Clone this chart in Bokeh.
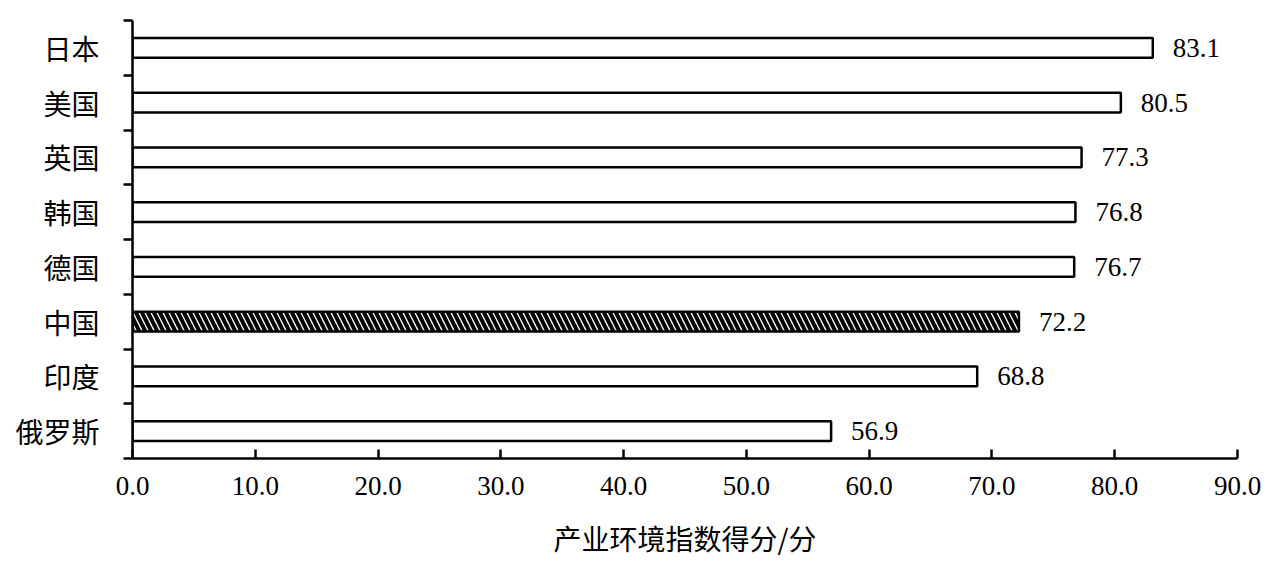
from bokeh.plotting import figure
from bokeh.models import ColumnDataSource, FixedTicker, Range1d
from bokeh.core.properties import value
from bokeh.embed import file_html
from bokeh.resources import INLINE

countries = ["俄罗斯", "印度", "中国", "德国", "韩国", "英国", "美国", "日本"]
scores = [56.9, 68.8, 72.2, 76.7, 76.8, 77.3, 80.5, 83.1]
x_ticks = [0, 10, 20, 30, 40, 50, 60, 70, 80, 90]
x_title = "产业环境指数得分/分"
highlight = "中国"

pos = [i + 0.5 for i in range(len(countries))]
labels = [f"{v:.1f}" for v in scores]

plain_src = ColumnDataSource(dict(
    y=[p for p, c in zip(pos, countries) if c != highlight],
    x=[v for v, c in zip(scores, countries) if c != highlight]))
hi_src = ColumnDataSource(dict(
    y=[p for p, c in zip(pos, countries) if c == highlight],
    x=[v for v, c in zip(scores, countries) if c == highlight]))
lab_src = ColumnDataSource(dict(y=pos, x=scores, t=labels))

p = figure(width=1272, height=560, output_backend="svg", toolbar_location=None,
           x_range=Range1d(0, 90), y_range=Range1d(0, len(countries)),
           min_border_left=132, min_border_right=35, min_border_top=20, min_border_bottom=100)
p.outline_line_color = None
p.grid.visible = False
p.background_fill_color = "white"

bh = 0.36
p.hbar(y="y", right="x", left=0, height=bh, source=plain_src,
       fill_color="white", line_color="black", line_width=2.5)
p.hbar(y="y", right="x", left=0, height=bh, source=hi_src,
       fill_color="white", line_color="black", line_width=2.5,
       hatch_pattern="\\", hatch_color="black", hatch_scale=12, hatch_weight=4)

p.text(x="x", y="y", text="t", source=lab_src, x_offset=20,
       text_baseline="middle", text_align="left",
       text_font=value("Liberation Serif"), text_font_size="27px", text_color="black")

# x axis
xa = p.xaxis[0]
xa.ticker = FixedTicker(ticks=x_ticks)
xa.major_label_overrides = {t: f"{t:.1f}" for t in x_ticks}
xa.major_tick_in = 9
xa.major_tick_out = 0
xa.minor_tick_line_color = None
xa.axis_line_width = 2.5
xa.major_tick_line_width = 2.5
xa.axis_line_color = "black"
xa.major_tick_line_color = "black"
xa.major_label_text_font = "Liberation Serif"
xa.major_label_text_font_size = "27px"
xa.major_label_text_color = "black"
xa.major_label_standoff = 18
xa.axis_label = x_title
xa.axis_label_text_font = "Noto Sans CJK SC"
xa.axis_label_text_font_size = "28px"
xa.axis_label_text_font_style = "normal"
xa.axis_label_text_color = "black"
xa.axis_label_standoff = 20

# y axis
ya = p.yaxis[0]
ya.ticker = FixedTicker(ticks=pos, minor_ticks=list(range(len(countries) + 1)))
ya.major_label_overrides = {p_: c for p_, c in zip(pos, countries)}
ya.major_tick_in = 0
ya.major_tick_out = 0
ya.minor_tick_in = 0
ya.minor_tick_out = 9
ya.minor_tick_line_width = 2.5
ya.minor_tick_line_color = "black"
ya.axis_line_width = 2.5
ya.axis_line_color = "black"
ya.major_label_text_font = "Noto Sans CJK SC"
ya.major_label_text_font_size = "28px"
ya.major_label_text_color = "black"
ya.major_label_standoff = 24

open("out.html", "w").write(file_html(p, INLINE))
